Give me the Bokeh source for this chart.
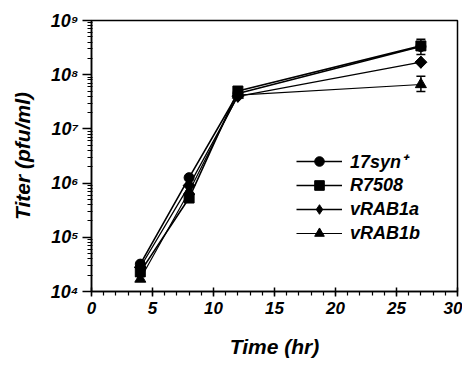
import math
from bokeh.plotting import figure
from bokeh.models import FixedTicker, Range1d, Whisker, ColumnDataSource, Legend, LegendItem, TeeHead
from bokeh.embed import file_html
from bokeh.resources import INLINE

# ---- data ----
time_hr = [4, 8, 12, 27]
syn17 = [3.2e4, 1.26e6, 4.5e7, 3.3e8]
r7508 = [2.3e4, 5.3e5, 5.0e7, 3.4e8]
vrab1a = [2.8e4, 9.0e5, 4.0e7, 1.7e8]
vrab1b = [1.7e4, 7.0e5, 4.2e7, 6.6e7]

series_names = ["17syn\u207a", "R7508", "vRAB1a", "vRAB1b"]

# error bars at 27 hr
err_x = [27, 27]
err_lower = [2.35e8, 4.9e7]
err_upper = [4.5e8, 9.4e7]

x_ticks = [0, 5, 10, 15, 20, 25, 30]
x_minor = [i for i in range(0, 31)]
y_ticks = [1e4, 1e5, 1e6, 1e7, 1e8, 1e9]
y_tick_labels = ["10\u2074", "10\u2075", "10\u2076", "10\u2077", "10\u2078", "10\u2079"]

FONT = "Liberation Sans"

p = figure(width=462, height=366, output_backend="svg", toolbar_location=None,
           y_axis_type="log", x_range=Range1d(0, 30), y_range=Range1d(1e4, 1e9),
           min_border_left=91, min_border_right=5, min_border_top=20, min_border_bottom=75)
p.xgrid.visible = False
p.ygrid.visible = False
p.outline_line_color = "black"
p.outline_line_width = 1.5
p.background_fill_color = "white"

p.xaxis.ticker = FixedTicker(ticks=x_ticks, minor_ticks=x_minor)
minor_y = []
for d in y_ticks[:-1]:
    for k in range(2, 10):
        minor_y.append(d * k)
p.yaxis.ticker = FixedTicker(ticks=y_ticks, minor_ticks=minor_y)
p.yaxis.major_label_overrides = {v: lab for v, lab in zip(y_ticks, y_tick_labels)}

for ax in (p.xaxis, p.yaxis):
    ax.axis_line_width = 1.5
    ax.major_tick_line_width = 1.5
    ax.minor_tick_line_width = 1.2
    ax.major_label_text_font = FONT
    ax.major_label_text_font_style = "bold italic"
    ax.major_label_text_font_size = "17px"
    ax.major_label_text_color = "black"
    ax.axis_label_text_font = FONT
    ax.axis_label_text_font_style = "bold italic"
    ax.axis_label_text_font_size = "21px"
    ax.axis_label_text_color = "black"

p.yaxis.major_label_text_font_size = "18px"

p.xaxis.major_tick_in = 4
p.xaxis.major_tick_out = 5
p.xaxis.minor_tick_in = 0
p.xaxis.minor_tick_out = 4
p.xaxis.major_label_standoff = 5
p.xaxis.axis_label = "Time (hr)"
p.xaxis.axis_label_standoff = 18

p.yaxis.major_tick_in = 0
p.yaxis.major_tick_out = 9
p.yaxis.minor_tick_in = 1
p.yaxis.minor_tick_out = 4
p.yaxis.major_label_standoff = 4
p.yaxis.axis_label = "Titer (pfu/ml)"
p.yaxis.axis_label_standoff = 14

src_err = ColumnDataSource(dict(x=err_x, lower=err_lower, upper=err_upper))
p.add_layout(Whisker(source=src_err, base="x", lower="lower", upper="upper",
                     line_width=1.5, line_color="black",
                     upper_head=TeeHead(size=9, line_width=1.5),
                     lower_head=TeeHead(size=9, line_width=1.5)))

items = []
markers = ["circle", "square", "diamond", "triangle"]
sizes = [10, 10, 12, 11]
widths = [1.6, 1.6, 1.3, 1.2]
for name, ys, mk, sz, lw in zip(series_names, [syn17, r7508, vrab1a, vrab1b], markers, sizes, widths):
    src = ColumnDataSource(dict(x=time_hr, y=ys))
    l = p.line("x", "y", source=src, line_color="black", line_width=lw)
    if mk == "diamond":
        # wider diamond on the plot: rotated square under the narrow diamond glyph
        p.scatter("x", "y", source=src, marker="square", angle=math.pi / 4, size=8.5,
                  fill_color="black", line_color="black")
    s = p.scatter("x", "y", source=src, marker=mk, size=sz,
                  fill_color="black", line_color="black")
    items.append(LegendItem(label=name, renderers=[l, s]))

legend = Legend(items=items, location=(205, 46))
legend.border_line_color = None
legend.background_fill_alpha = 0
legend.padding = 0
legend.margin = 0
legend.spacing = -3
legend.glyph_width = 46
legend.glyph_height = 24
legend.label_height = 20
legend.label_standoff = 8
legend.label_text_font = FONT
legend.label_text_font_style = "bold italic"
legend.label_text_font_size = "18px"
legend.label_text_color = "black"
p.add_layout(legend, "center")

open("out.html", "w").write(file_html(p, INLINE))
